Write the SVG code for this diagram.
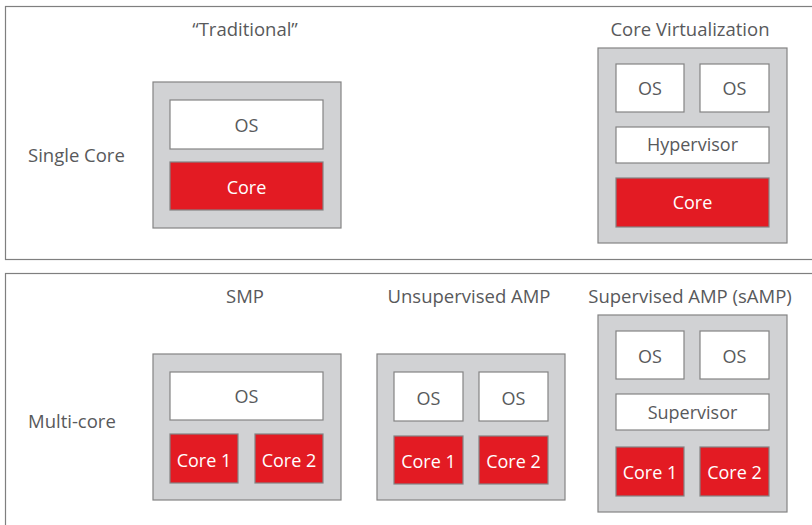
<svg xmlns="http://www.w3.org/2000/svg" width="812" height="525" viewBox="0 0 812 525">
<style>
.panel{fill:#ffffff;stroke:#7f7f7f;stroke-width:1.2}
.box{fill:#d1d2d4;stroke:#848484;stroke-width:1.2}
.os{fill:#ffffff;stroke:#848484;stroke-width:1.2}
.core{fill:#e31b23;stroke:#848484;stroke-width:1.2}
.lbl{font-family:"Open Sans","Liberation Sans",sans-serif;font-size:18.5px;fill:#58595b;text-anchor:middle}
.side{font-family:"Open Sans","Liberation Sans",sans-serif;font-size:18.5px;fill:#58595b}
.t{font-family:"Open Sans","Liberation Sans",sans-serif;font-size:18px;fill:#58595b;text-anchor:middle}
.tw{font-family:"Open Sans","Liberation Sans",sans-serif;font-size:18px;fill:#ffffff;text-anchor:middle}
</style>
<rect width="812" height="525" fill="#ffffff"/>
<g id="panel-single">
<rect class="panel" x="5.5" y="6.5" width="820" height="253"/>
<text class="side" x="28" y="162">Single Core</text>
</g>
<g id="panel-multi">
<rect class="panel" x="5.5" y="273.5" width="820" height="260"/>
<text class="side" x="28" y="428">Multi-core</text>
</g>
<g id="traditional">
<text class="lbl" x="245" y="36">“Traditional”</text>
<rect class="box" x="153" y="82" width="188" height="146"/>
<rect class="os" x="170" y="100" width="153" height="49"/>
<text class="t" x="246.5" y="132">OS</text>
<rect class="core" x="170" y="162" width="153" height="48"/>
<text class="tw" x="246.5" y="194">Core</text>
</g>
<g id="core-virtualization">
<text class="lbl" x="690" y="36">Core Virtualization</text>
<rect class="box" x="598" y="48" width="189" height="195"/>
<rect class="os" x="616" y="64" width="68" height="48"/>
<text class="t" x="650" y="95">OS</text>
<rect class="os" x="700" y="64" width="69" height="48"/>
<text class="t" x="734.5" y="95">OS</text>
<rect class="os" x="616" y="127" width="153" height="36"/>
<text class="t" x="692.5" y="151">Hypervisor</text>
<rect class="core" x="616" y="178" width="153" height="49"/>
<text class="tw" x="692.5" y="209">Core</text>
</g>
<g id="smp">
<text class="lbl" x="245" y="303">SMP</text>
<rect class="box" x="153" y="354" width="188" height="146"/>
<rect class="os" x="170" y="372" width="153" height="48"/>
<text class="t" x="246.5" y="403">OS</text>
<rect class="core" x="170" y="434" width="68" height="49"/>
<text class="tw" x="204" y="467">Core 1</text>
<rect class="core" x="255" y="434" width="68" height="49"/>
<text class="tw" x="289" y="467">Core 2</text>
</g>
<g id="unsupervised-amp">
<text class="lbl" x="469" y="303">Unsupervised AMP</text>
<rect class="box" x="377" y="354" width="188" height="146"/>
<rect class="os" x="394" y="372" width="69" height="49"/>
<text class="t" x="428.5" y="405">OS</text>
<rect class="os" x="479" y="372" width="69" height="49"/>
<text class="t" x="513.5" y="405">OS</text>
<rect class="core" x="394" y="436" width="69" height="48"/>
<text class="tw" x="428.5" y="468">Core 1</text>
<rect class="core" x="479" y="436" width="69" height="48"/>
<text class="tw" x="513.5" y="468">Core 2</text>
</g>
<g id="supervised-amp">
<text class="lbl" x="690" y="303">Supervised AMP (sAMP)</text>
<rect class="box" x="598" y="315" width="189" height="197"/>
<rect class="os" x="616" y="331" width="68" height="48"/>
<text class="t" x="650" y="363">OS</text>
<rect class="os" x="700" y="331" width="69" height="48"/>
<text class="t" x="734.5" y="363">OS</text>
<rect class="os" x="616" y="394" width="153" height="36"/>
<text class="t" x="692.5" y="419">Supervisor</text>
<rect class="core" x="616" y="447" width="68" height="49"/>
<text class="tw" x="650" y="479">Core 1</text>
<rect class="core" x="700" y="447" width="69" height="49"/>
<text class="tw" x="734.5" y="479">Core 2</text>
</g>
</svg>
